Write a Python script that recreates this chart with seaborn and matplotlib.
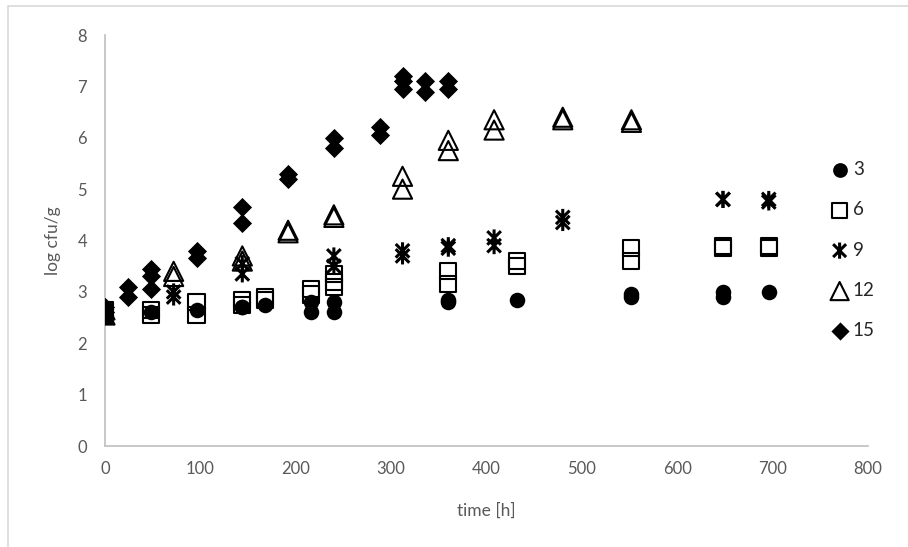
import matplotlib
matplotlib.use('Agg')
import matplotlib.pyplot as plt
from matplotlib.path import Path
from matplotlib.patches import Rectangle
import seaborn as sns
import pandas as pd

# log cfu/g readings, two (sometimes three) replicates per sampling time
t_3 = [0, 0, 48, 96, 144, 144, 168, 216, 216, 240, 240, 360, 360, 432, 552, 552, 648, 648, 696]
v_3 = [2.55, 2.65, 2.6, 2.65, 2.7, 2.7, 2.75, 2.6, 2.8, 2.6, 2.8, 2.8, 2.85, 2.85, 2.9, 2.95, 2.9, 3.0, 3.0]

t_6 = [0, 0, 48, 48, 96, 96, 144, 144, 168, 168, 216, 216, 240, 240, 240, 360, 360, 432, 432, 552, 552, 648, 648, 696, 696]
v_6 = [2.55, 2.65, 2.55, 2.65, 2.55, 2.8, 2.75, 2.85, 2.85, 2.9, 2.95, 3.05, 3.1, 3.2, 3.35, 3.15, 3.4, 3.5, 3.6, 3.6, 3.85, 3.85, 3.9, 3.85, 3.9]

t_9 = [0, 0, 72, 72, 144, 144, 240, 240, 312, 312, 360, 360, 408, 408, 480, 480, 648, 648, 696, 696]
v_9 = [2.55, 2.65, 2.9, 3.0, 3.35, 3.55, 3.5, 3.7, 3.7, 3.8, 3.85, 3.9, 3.9, 4.05, 4.35, 4.45, 4.8, 4.8, 4.75, 4.8]

t_12 = [0, 0, 72, 72, 144, 144, 192, 192, 240, 240, 312, 312, 360, 360, 408, 408, 480, 480, 552, 552]
v_12 = [2.55, 2.65, 3.3, 3.4, 3.6, 3.7, 4.15, 4.2, 4.45, 4.5, 5.0, 5.25, 5.75, 5.95, 6.15, 6.35, 6.35, 6.4, 6.3, 6.35]

t_15 = [0, 0, 24, 24, 48, 48, 48, 96, 96, 144, 144, 192, 192, 240, 240, 288, 288, 312, 312, 312, 336, 336, 360, 360]
v_15 = [2.6, 2.7, 2.9, 3.1, 3.05, 3.3, 3.45, 3.65, 3.8, 4.35, 4.65, 5.2, 5.3, 5.8, 6.0, 6.05, 6.2, 6.95, 7.1, 7.2, 6.9, 7.1, 6.95, 7.1]

# excel style star: vertical bar plus an X
star = Path([(0, -1), (0, 1), (-0.8, -0.8), (0.8, 0.8), (-0.8, 0.8), (0.8, -0.8)],
            [Path.MOVETO, Path.LINETO, Path.MOVETO, Path.LINETO, Path.MOVETO, Path.LINETO])

series = [
    ('3', t_3, v_3, dict(marker='o', s=125, facecolor='black', edgecolor='black', linewidth=0)),
    ('6', t_6, v_6, dict(marker='s', s=135, facecolor='none', edgecolor='black', linewidth=1.5)),
    ('9', t_9, v_9, dict(marker=star, s=150, facecolor='none', edgecolor='black', linewidth=2.2)),
    ('12', t_12, v_12, dict(marker='^', s=190, facecolor='none', edgecolor='black', linewidth=1.5)),
    ('15', t_15, v_15, dict(marker='D', s=95, facecolor='black', edgecolor='black', linewidth=0)),
]

sns.set_theme(style='white')
plt.rcParams['font.family'] = ['Lato', 'DejaVu Sans']
text_grey = '#595959'
axis_grey = '#BFBFBF'

fig = plt.figure(figsize=(9.08, 5.47), dpi=100)
ax = fig.add_axes([0.1156, 0.1846, 0.8403, 0.7514])

for label, t, v, style in series:
    df = pd.DataFrame({'time': t, 'log': v})
    sns.scatterplot(data=df, x='time', y='log', ax=ax, label=label, zorder=3, **style)

ax.set_xlim(0, 800)
ax.set_ylim(0, 8)
ax.set_xticks(range(0, 801, 100))
ax.set_yticks(range(0, 9))
ax.tick_params(axis='both', length=0, labelsize=12, labelcolor=text_grey)
ax.tick_params(axis='x', pad=11)
ax.tick_params(axis='y', pad=13)
ax.set_xlabel('time [h]', fontsize=12.5, color=text_grey, labelpad=18)
ax.set_ylabel('log cfu/g', fontsize=12.5, color=text_grey, labelpad=12)
for side in ['top', 'right']:
    ax.spines[side].set_visible(False)
for side in ['left', 'bottom']:
    ax.spines[side].set_color(axis_grey)
    ax.spines[side].set_linewidth(1.2)

leg = ax.legend(loc='upper left', bbox_to_anchor=(0.903, 0.72), bbox_transform=fig.transFigure,
                frameon=False, fontsize=13.5, labelspacing=1.25, handletextpad=0.05,
                borderaxespad=0, markerscale=0.95, handlelength=1.3)
for txt in leg.get_texts():
    txt.set_color('#262626')

# chart area border, cut off by the image edge on the right and bottom
fig.patches.append(Rectangle((0.009, -0.1), 1.2, 1.089, transform=fig.transFigure,
                             fill=False, edgecolor='#D9D9D9', linewidth=1.2))

plt.savefig('out.png', dpi=100)
